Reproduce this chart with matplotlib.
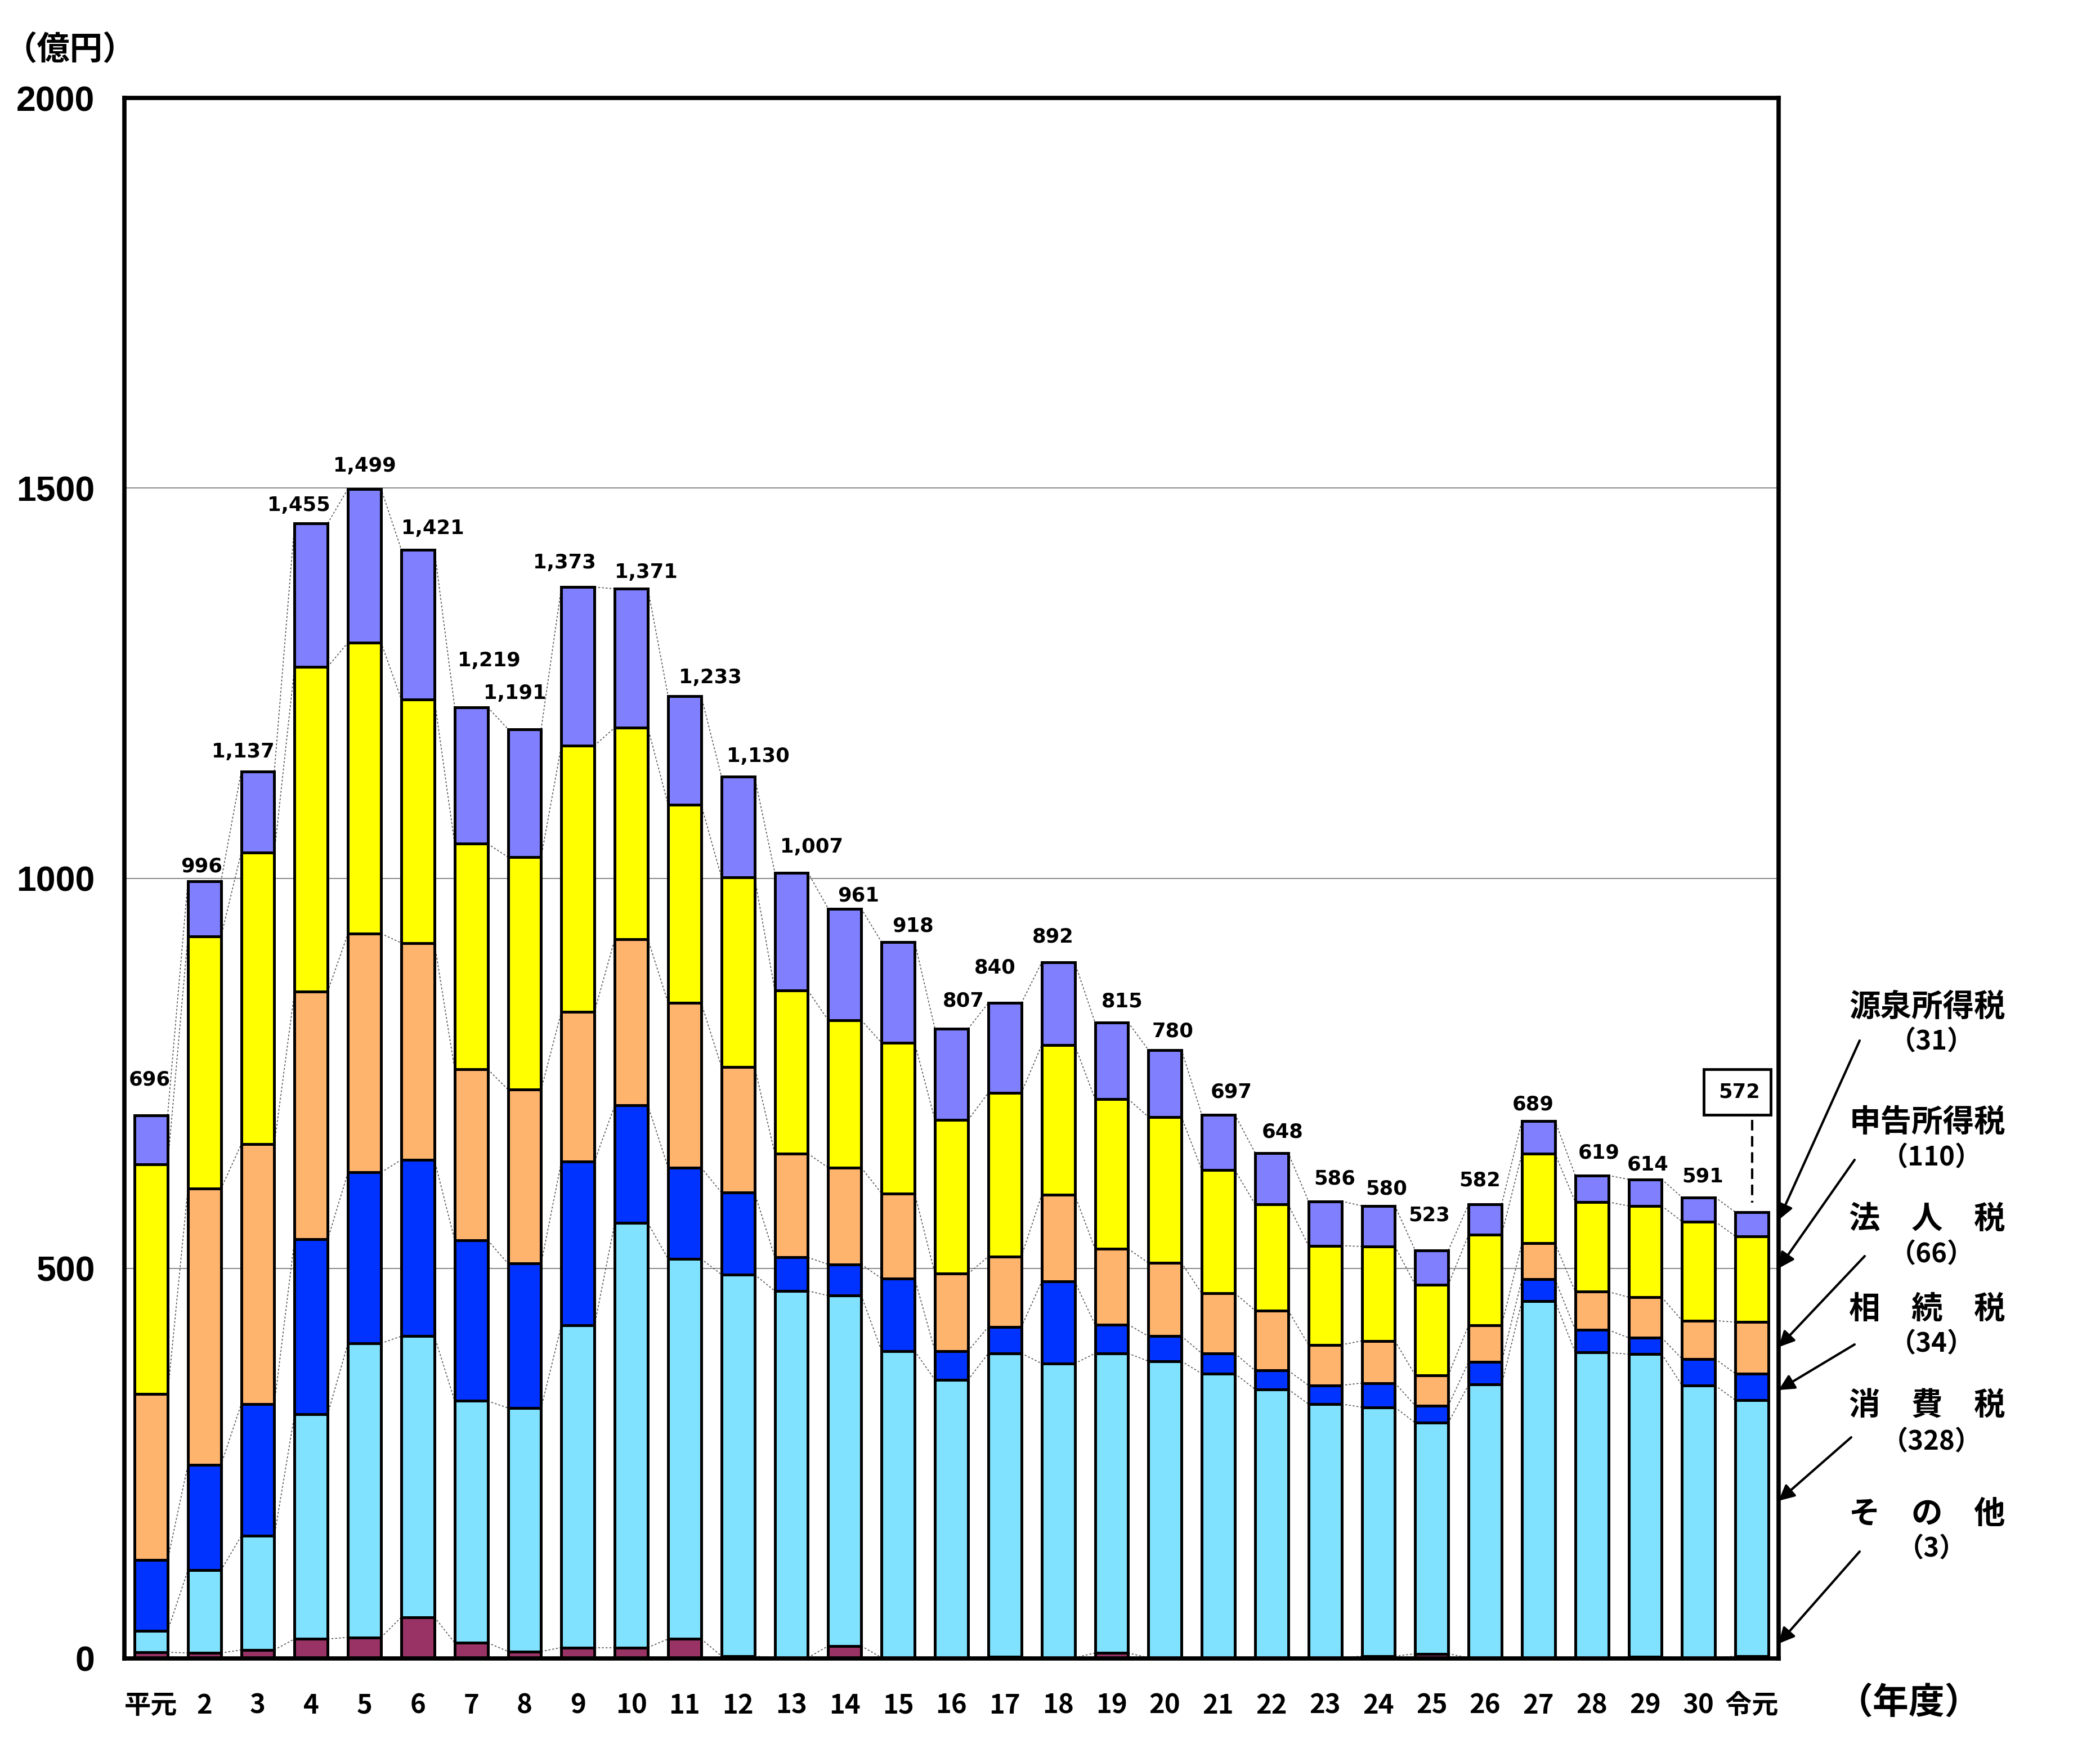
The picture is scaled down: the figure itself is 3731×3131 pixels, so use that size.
import matplotlib
matplotlib.use("Agg")
import matplotlib.pyplot as plt
from matplotlib.patches import Rectangle

plt.rcParams['font.family'] = ['Noto Sans CJK JP', 'DejaVu Sans']

# ---------------- data ----------------
years = ['平元', '2', '3', '4', '5', '6', '7', '8', '9', '10', '11', '12', '13', '14', '15',
         '16', '17', '18', '19', '20', '21', '22', '23', '24', '25', '26', '27', '28', '29', '30', '令元']
sonota = [8, 7, 11, 25, 27, 53, 20, 9, 14, 14, 25, 3, 1, 16, 1, 1, 2, 1, 7, 1, 1, 1, 1, 3, 6, 1, 1, 1, 2, 1, 3]
shohi = [27, 106, 146, 288, 377, 360, 310, 312, 413, 544, 487, 489, 470, 449, 393, 356, 389, 377, 384, 380,
         364, 344, 325, 319, 296, 350, 457, 391, 388, 349, 328]
sozoku = [91, 135, 169, 224, 219, 226, 206, 185, 210, 151, 117, 105, 43, 40, 93, 37, 34, 105, 37, 32,
          26, 24, 24, 31, 22, 29, 28, 29, 21, 34, 34]
hojin = [213, 354, 333, 318, 306, 278, 219, 223, 192, 213, 211, 161, 133, 124, 109, 99, 90, 111, 97, 94,
         77, 77, 52, 54, 39, 47, 46, 49, 52, 49, 66]
shinkoku = [294, 323, 374, 416, 373, 312, 289, 298, 341, 271, 254, 243, 209, 189, 193, 197, 210, 192, 192, 187,
            158, 136, 127, 121, 116, 116, 115, 115, 117, 127, 110]
gensen = [63, 71, 104, 184, 197, 192, 175, 164, 203, 178, 139, 129, 151, 143, 129, 117, 115, 106, 98, 86,
          71, 66, 57, 52, 44, 39, 42, 34, 34, 31, 31]
totals = [696, 996, 1137, 1455, 1499, 1421, 1219, 1191, 1373, 1371, 1233, 1130, 1007, 961, 918, 807, 840, 892,
          815, 780, 697, 648, 586, 580, 523, 582, 689, 619, 614, 591, 572]
legend_names = ['源泉所得税', '申告所得税', '法　人　税', '相　続　税', '消　費　税', 'そ　の　他']
legend_values = ['（31）', '（110）', '（66）', '（34）', '（328）', '（3）']
yticks = [0, 500, 1000, 1500, 2000]

# ---------------- layout / style ----------------
W, H = 3731, 3131
colors = ['#993366', '#80E2FF', '#0033FF', '#FFB46E', '#FFFF00', '#8080FF']
series = [sonota, shohi, sozoku, hojin, shinkoku, gensen]
bw = 0.62
label_dx = [-0.03, -0.05, -0.28, -0.23, 0, 0.28, 0.33, -0.18, -0.25, 0.28, 0.48, 0.38, 0.38, 0.25, 0.28,
            0.23, -0.18, -0.1, 0.2, 0.15, 0.25, 0.2, 0.18, 0.15, -0.05, -0.1, -0.1, 0.13, 0.05, 0.08]
label_gap = [46, 19, 25, 23, 29, 27, 60, 46, 31, 21, 24, 26, 33, 17, 21, 36, 45, 33, 27, 24, 29, 27,
             29, 22, 45, 31, 21, 29, 19, 27]


def fx(px):
    return px / W


def fy(py):
    return 1 - py / H


fig = plt.figure(figsize=(W / 100, H / 100), dpi=100)
ax = fig.add_axes([fx(221), fy(2947), fx(3160) - fx(221), fy(174) - fy(2947)])

n = len(years)
xs = list(range(n))

# gridlines
ax.set_axisbelow(True)
ax.yaxis.grid(True, color='#808080', lw=1.3)

# stacked bars
bottoms = [0] * n
levels = []
for vals, col in zip(series, colors):
    ax.bar(xs, vals, bottom=bottoms, width=bw, color=col, edgecolor='black', linewidth=3.6, zorder=3)
    bottoms = [b + v for b, v in zip(bottoms, vals)]
    levels.append(list(bottoms))

# dotted connector lines between bars
for lev in levels:
    for i in range(n - 1):
        ax.plot([i + bw / 2, i + 1 - bw / 2], [lev[i], lev[i + 1]], color='#555555', lw=1.2,
                ls=(0, (2, 2)), zorder=2)

# total labels
for i in range(n - 1):
    ax.text(i + label_dx[i], totals[i] + label_gap[i], f'{totals[i]:,}', ha='center', va='center',
            fontsize=25.5, fontweight='bold', family='DejaVu Sans', zorder=5)

# last total in a box with dashed leader
ax.add_patch(Rectangle((29.10, 697), 1.25, 58, facecolor='white', edgecolor='black', lw=3.5,
                       clip_on=False, zorder=6))
ax.text(29.76, 726, f'{totals[-1]:,}', ha='center', va='center', fontsize=25.5, fontweight='bold',
        family='DejaVu Sans', zorder=7, clip_on=False)
ax.plot([n - 1, n - 1], [690, totals[-1] + 12], color='black', lw=3, ls=(0, (4.5, 2.4)), zorder=6,
        clip_on=False)

ax.set_xlim(-0.5, n - 0.5)
ax.set_ylim(0, 2000)
ax.set_yticks(yticks)
ax.set_yticklabels([str(t) for t in yticks], fontsize=45, fontweight='bold', family='Liberation Sans')
ax.set_xticks(xs)
ax.set_xticklabels(years, fontsize=34, fontweight='bold')
ax.tick_params(axis='y', length=0, pad=38)
ax.tick_params(axis='x', length=0, pad=43)
for s in ax.spines.values():
    s.set_linewidth(5.5)
    s.set_color('black')
    s.set_zorder(10)

# unit labels
fig.text(fx(124), fy(88), '（億円）', ha='center', va='center', fontsize=42, fontweight='bold')
fig.text(fx(3391), fy(3027), '（年度）', ha='center', va='center', fontsize=46, fontweight='bold')

# right-side legend with arrows
name_y = [1790, 1995, 2167, 2327, 2499, 2691]
val_y = [1851, 2057, 2229, 2388, 2562, 2752]
arrow_start = [(3304, 1849), (3295, 2061), (3313, 2232), (3295, 2389), (3289, 2554), (3304, 2757)]
arrow_end_val = [562, 500, 399, 344, 202, 19]
for k in range(6):
    fig.text(fx(3424), fy(name_y[k]), legend_names[k], ha='center', va='center', fontsize=40,
             fontweight='bold')
    fig.text(fx(3432), fy(val_y[k]), legend_values[k], ha='center', va='center', fontsize=34,
             fontweight='bold')
    ax.annotate('', xy=(n - 0.5, arrow_end_val[k]), xycoords='data',
                xytext=(fx(arrow_start[k][0]), fy(arrow_start[k][1])), textcoords='figure fraction',
                arrowprops=dict(arrowstyle='-|>', mutation_scale=42, lw=3, color='black',
                                shrinkA=0, shrinkB=0),
                annotation_clip=False, zorder=12)

fig.savefig('out.png', dpi=100)
